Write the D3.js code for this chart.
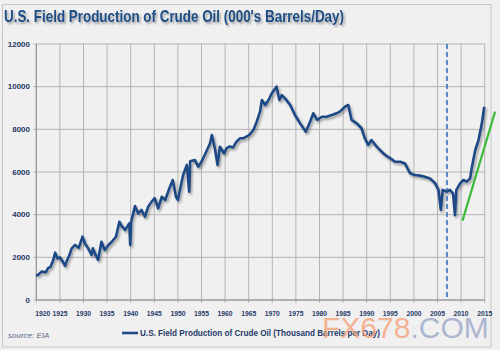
<!DOCTYPE html>
<html>
<head>
<meta charset="utf-8">
<script src="https://cdn.jsdelivr.net/npm/d3@7"></script>
<style>
  body { margin: 0; background: #fff; }
</style>
</head>
<body>
<div id="chart"></div>
<script>
// monthly-ish readings (fractional year, thousand barrels/day)
const years = [1920.0, 1920.5, 1921.1, 1922.0, 1922.5, 1923.0, 1923.6, 1924.0, 1924.5, 1925.0,
  1925.4, 1926.1, 1926.4, 1927.0, 1927.5, 1928.2, 1929.0, 1929.8, 1930.3, 1931.0,
  1931.7, 1932.0, 1932.4, 1933.1, 1933.8, 1934.5, 1935.3, 1936.0, 1936.9, 1937.6,
  1938.0, 1938.8, 1939.7, 1939.9, 1940.1, 1940.9, 1941.6, 1942.3, 1943.0, 1943.7,
  1944.4, 1945.1, 1945.8, 1946.6, 1947.3, 1948.2, 1948.9, 1949.6, 1950.0, 1951.1,
  1951.9, 1952.4, 1952.6, 1953.6, 1954.3, 1955.0, 1956.0, 1956.8, 1957.2, 1957.9,
  1958.4, 1958.9, 1959.8, 1960.3, 1961.0, 1961.7, 1962.4, 1963.2, 1963.8, 1965.1,
  1966.0, 1966.7, 1967.4, 1967.8, 1968.5, 1969.2, 1969.9, 1970.9, 1971.5, 1972.0,
  1972.7, 1973.8, 1974.8, 1975.9, 1977.1, 1978.0, 1978.7, 1979.5, 1980.5, 1981.5,
  1982.6, 1983.6, 1984.3, 1985.4, 1986.1, 1986.8, 1987.9, 1988.9, 1989.6, 1990.3,
  1991.0, 1991.8, 1992.8, 1993.9, 1995.0, 1996.0, 1997.1, 1998.1, 1999.2, 2000.2,
  2001.3, 2002.3, 2003.4, 2004.5, 2005.2, 2005.7, 2006.1, 2007.0, 2007.6, 2008.3,
  2008.7, 2009.0, 2009.8, 2010.5, 2011.2, 2011.9, 2012.3, 2013.0, 2013.7, 2014.4,
  2014.9];
const production = [1125, 1200, 1330, 1300, 1490, 1550, 1875, 2220, 1950, 2000,
  1875, 1600, 1800, 2100, 2420, 2580, 2450, 2970, 2650, 2420,
  2110, 2420, 2200, 1875, 2730, 2340, 2580, 2730, 2970, 3670,
  3500, 3280, 3590, 2580, 3670, 4400, 4060, 4220, 3900, 4375,
  4600, 4770, 4300, 4840, 4690, 5240, 5625, 4840, 4690, 5860,
  6330, 5080, 6500, 6560, 6250, 6480, 6950, 7340, 7730, 7030,
  6330, 7180, 6870, 7110, 7200, 7150, 7420, 7580, 7580, 7730,
  7970, 8360, 8830, 9375, 9140, 9375, 9690, 10000, 9375, 9600,
  9450, 9140, 8670, 8280, 7890, 8360, 8750, 8440, 8590, 8590,
  8670, 8750, 8830, 9060, 9140, 8440, 8280, 8050, 7580, 7270,
  7500, 7270, 7030, 6800, 6640, 6480, 6480, 6400, 5940, 5860,
  5830, 5780, 5700, 5470, 5160, 4220, 5160, 5080, 5160, 5000,
  3980, 5160, 5470, 5625, 5550, 5700, 6250, 7030, 7500, 8280,
  9060];

// green trend line and the dashed marker
const trendYears = [2010.3, 2017.2];
const trendValues = [3720, 8830];
const markerYear = 2007;

const xTicks = d3.range(1920, 2016, 5);
const yTicks = [0, 2000, 4000, 6000, 8000, 10000, 12000];

const svgWidth = 500;
const svgHeight = 350;

const svg = d3.select("#chart")
    .append("svg")
    .attr("width", svgWidth)
    .attr("height", svgHeight)
    .style("font-family", "'Liberation Sans', Arial, sans-serif");

const defs = svg.append("defs");
const shadow = defs.append("filter").attr("id", "shadow")
    .attr("x", "-10%").attr("y", "-10%").attr("width", "120%").attr("height", "120%");
shadow.append("feDropShadow")
    .attr("dx", 1.5).attr("dy", 2).attr("stdDeviation", 1.2)
    .attr("flood-color", "#000").attr("flood-opacity", 0.35);

svg.append("rect")
    .attr("width", svgWidth).attr("height", svgHeight)
    .attr("fill", "#f0f0f0");

svg.append("rect")
    .attr("x", 2.5).attr("y", 4.5)
    .attr("width", 488.5).attr("height", 342.5)
    .attr("fill", "none")
    .attr("stroke", "#c6c6c6");

const x = d3.scaleLinear()
    .domain([1920, 2015])
    .range([36.3, 484.7]);

const y = d3.scaleLinear()
    .domain([0, 12000])
    .range([300, 44]);

// grid
svg.append("g")
    .selectAll("line")
    .data(yTicks)
    .enter().append("line")
    .attr("x1", x(1920) - 3).attr("x2", x(2015))
    .attr("y1", d => y(d)).attr("y2", d => y(d))
    .attr("stroke", "#b4b4b4")
    .attr("stroke-width", 1);

svg.append("g")
    .selectAll("line")
    .data(xTicks)
    .enter().append("line")
    .attr("x1", d => x(d)).attr("x2", d => x(d))
    .attr("y1", y(12000)).attr("y2", y(0) + 3)
    .attr("stroke", "#b4b4b4")
    .attr("stroke-width", 1);

svg.append("line")
    .attr("x1", x(1920)).attr("x2", x(1920))
    .attr("y1", y(12000)).attr("y2", y(0))
    .attr("stroke", "#8c8c8c");
svg.append("line")
    .attr("x1", x(1920)).attr("x2", x(2015))
    .attr("y1", y(0)).attr("y2", y(0))
    .attr("stroke", "#8c8c8c");

// tick labels
svg.append("g")
    .selectAll("text")
    .data(yTicks)
    .enter().append("text")
    .attr("x", 30)
    .attr("y", d => y(d))
    .attr("dy", "0.35em")
    .attr("text-anchor", "end")
    .style("font-size", "8px")
    .style("font-weight", "bold")
    .style("fill", "#1f3a68")
    .text(d => d);

svg.append("g")
    .selectAll("text")
    .data(xTicks)
    .enter().append("text")
    .attr("x", (d, i) => i === 0 ? x(d) - 1 : x(d) - 7.5)
    .attr("y", 316)
    .attr("textLength", 15)
    .attr("lengthAdjust", "spacingAndGlyphs")
    .style("font-size", "8px")
    .style("font-weight", "bold")
    .style("fill", "#1f3a68")
    .text(d => d);

// dashed 2007 marker
svg.append("line")
    .attr("x1", x(markerYear)).attr("x2", x(markerYear))
    .attr("y1", y(12000)).attr("y2", y(0))
    .attr("stroke", "#4f86c6")
    .attr("stroke-width", 2)
    .attr("stroke-dasharray", "5,3");

const points = years.map((yr, i) => [yr, production[i]]);

const line = d3.line()
    .x(d => x(d[0]))
    .y(d => y(d[1]));

svg.append("path")
    .datum(points)
    .attr("d", line)
    .attr("fill", "none")
    .attr("stroke", "#1f4a86")
    .attr("stroke-width", 2.6)
    .attr("stroke-linejoin", "round")
    .attr("filter", "url(#shadow)");

svg.append("path")
    .datum(trendYears.map((yr, i) => [yr, trendValues[i]]))
    .attr("d", line)
    .attr("fill", "none")
    .attr("stroke", "#3dbb3d")
    .attr("stroke-width", 2.2);

// title
svg.append("text")
    .attr("x", 4)
    .attr("y", 22)
    .attr("textLength", 340)
    .attr("lengthAdjust", "spacingAndGlyphs")
    .style("font-size", "17px")
    .style("font-weight", "bold")
    .style("fill", "#1f4e85")
    .attr("filter", "url(#shadow)")
    .text("U.S. Field Production of Crude Oil (000's Barrels/Day)");

// source + legend
svg.append("text")
    .attr("x", 8)
    .attr("y", 338)
    .style("font-size", "8px")
    .style("font-style", "italic")
    .style("fill", "#5a6a88")
    .text("source: EIA");

svg.append("line")
    .attr("x1", 122).attr("x2", 138)
    .attr("y1", 333).attr("y2", 333)
    .attr("stroke", "#1f4a86")
    .attr("stroke-width", 2.6);

svg.append("text")
    .attr("x", 140)
    .attr("y", 336)
    .attr("textLength", 240)
    .attr("lengthAdjust", "spacingAndGlyphs")
    .style("font-size", "9px")
    .style("font-weight", "bold")
    .style("fill", "#1f3a68")
    .text("U.S. Field Production of Crude Oil (Thousand Barrels per Day)");

// watermark
const wm = svg.append("text")
    .attr("x", 322)
    .attr("y", 338)
    .style("font-size", "30px")
    .style("font-family", "'Liberation Sans', Arial, sans-serif");
wm.append("tspan").style("fill", "#f5a27a").style("fill-opacity", 0.8).text("FX678");
wm.append("tspan").style("fill", "#9aa6c8").style("fill-opacity", 0.8).text(".COM");
</script>
</body>
</html>
